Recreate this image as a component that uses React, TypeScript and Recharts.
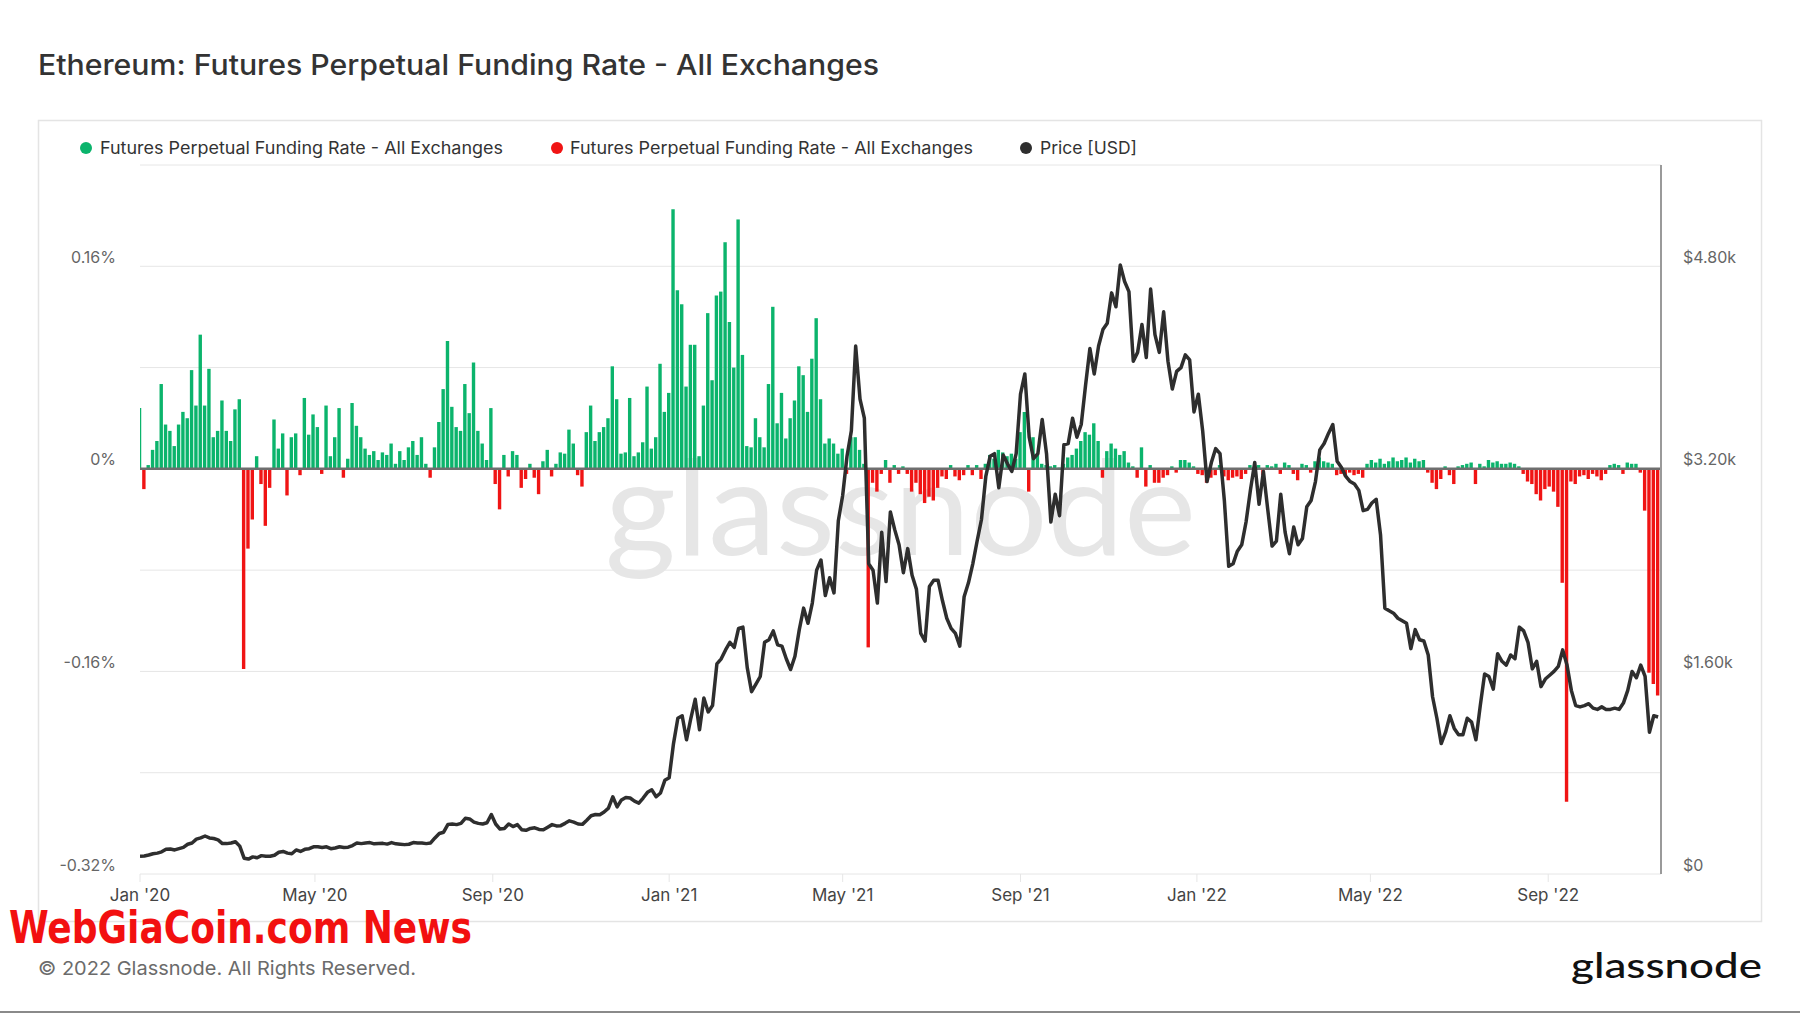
import React from 'react';
import { ComposedChart, Bar, Line, XAxis, YAxis, CartesianGrid, ReferenceLine, Cell } from 'recharts';

const FONT = 'Inter, "Noto Sans", Roboto, sans-serif';
const GREEN = '#0bb46c';
const RED = '#f01414';
const PRICE_COLOR = '#2e2e2e';

const DAY_MS = 86400000;
const START = Date.parse('2020-01-01');
const END = Date.parse('2022-11-18');
const STEP_DAYS = 3;

// funding rate (%), one value every 3 days from 1 Jan 2020
const fundingRate = [
  0.048, -0.016, 0.003, 0.015, 0.022, 0.067, 0.035, 0.03, 0.018, 0.035,
  0.045, 0.04, 0.078, 0.05, 0.106, 0.05, 0.079, 0.025, 0.03, 0.054,
  0.03, 0.022, 0.047, 0.055, -0.158, -0.063, -0.04, 0.01, -0.012, -0.045,
  -0.015, 0.039, 0.016, 0.028, -0.021, 0.025, 0.028, -0.005, 0.056, 0.027,
  0.043, 0.033, -0.004, 0.05, 0.01, 0.025, 0.048, -0.007, 0.008, 0.052,
  0.034, 0.025, 0.016, 0.011, 0.014, 0.007, 0.013, 0.011, 0.02, 0.004,
  0.014, 0.007, 0.017, 0.022, 0.011, 0.025, 0.004, -0.007, 0.017, 0.037,
  0.063, 0.101, 0.049, 0.033, 0.03, 0.067, 0.044, 0.084, 0.03, 0.02,
  0.007, 0.048, -0.012, -0.032, 0.011, -0.006, 0.014, 0.011, -0.015, -0.008,
  0.004, -0.007, -0.02, 0.006, 0.015, -0.006, 0.004, 0.013, 0.012, 0.031,
  0.02, -0.005, -0.014, 0.029, 0.05, 0.022, 0.029, 0.033, 0.04, 0.081,
  0.055, 0.012, 0.013, 0.056, 0.01, 0.013, 0.021, 0.065, 0.016, 0.025,
  0.083, 0.045, 0.06, 0.205, 0.141, 0.13, 0.065, 0.098, 0.098, 0.01,
  0.05, 0.123, 0.07, 0.137, 0.14, 0.179, 0.116, 0.08, 0.197, 0.09,
  0.018, 0.017, 0.04, 0.025, 0.017, 0.067, 0.128, 0.036, 0.06, 0.024,
  0.04, 0.054, 0.081, 0.074, 0.045, 0.087, 0.119, 0.055, 0.02, 0.024,
  0.02, 0.012, 0.016, -0.004, 0.025, 0.025, 0.015, 0.004, -0.141, -0.011,
  -0.018, -0.004, 0.007, -0.011, 0.003, -0.004, 0.002, -0.004, -0.018, -0.011,
  -0.02, -0.027, -0.022, -0.025, -0.015, -0.006, -0.008, 0.003, -0.006, -0.009,
  -0.005, 0.003, -0.005, 0.003, -0.008, 0.004, 0.011, 0.008, 0.015, 0.013,
  0.01, 0.012, 0.008, 0.029, 0.045, -0.018, 0.025, 0.011, 0.004, 0.003,
  0.002, 0.003, 0.001, 0.004, 0.009, 0.011, 0.016, 0.022, 0.029, 0.027,
  0.036, 0.022, -0.007, 0.014, 0.02, 0.016, 0.011, 0.014, 0.005, 0.002,
  -0.007, 0.017, -0.014, 0.003, -0.011, -0.011, -0.007, -0.005, 0.002, -0.003,
  0.007, 0.007, 0.005, 0.002, -0.004, -0.005, -0.011, -0.007, -0.005, 0.003,
  -0.006, -0.009, -0.007, -0.006, -0.008, -0.004, 0.003, -0.003, 0.003, -0.005,
  0.003, 0.002, 0.004, -0.004, 0.005, 0.003, -0.004, -0.009, 0.004, 0.003,
  -0.003, 0.006, 0.009, 0.006, 0.005, 0.004, -0.005, -0.004, -0.006, -0.003,
  -0.005, -0.004, -0.007, 0.004, 0.007, 0.005, 0.008, 0.004, 0.006, 0.009,
  0.006, 0.007, 0.009, 0.005, 0.008, 0.006, 0.007, -0.003, -0.011, -0.016,
  -0.008, 0.002, -0.005, -0.012, 0.002, 0.003, 0.004, 0.005, -0.012, 0.004,
  0.002, 0.007, 0.005, 0.006, 0.004, 0.004, 0.005, 0.004, 0.002, -0.004,
  -0.01, -0.012, -0.02, -0.025, -0.016, -0.014, -0.018, -0.03, -0.09, -0.263,
  -0.01, -0.012, -0.006, -0.005, -0.008, -0.004, -0.006, -0.009, -0.004, 0.003,
  0.004, 0.003, -0.004, 0.005, 0.004, 0.004, -0.003, -0.033, -0.161, -0.17, -0.179,
];

// ETH price (USD), same dates
const priceUsd = [
  140, 142, 150, 160, 165, 175, 195, 198, 190, 200,
  210, 235, 245, 275, 285, 300, 285, 280, 270, 240,
  240, 245, 255, 220, 125, 118, 135, 128, 145, 140,
  140, 148, 172, 178, 165, 160, 190, 178, 195, 200,
  215, 215, 210, 215, 200, 205, 215, 210, 212, 225,
  245, 240, 245, 248, 238, 240, 242, 236, 248, 238,
  235, 232, 235, 248, 244, 245, 240, 245, 285, 320,
  330, 392, 395, 390, 400, 440, 435, 410, 400, 395,
  405, 470, 395, 355, 360, 395, 375, 390, 350, 345,
  360, 365, 352, 350, 370, 390, 380, 382, 400, 420,
  410, 395, 392, 425, 460, 470, 468, 490, 520, 610,
  530, 585, 605, 600, 575, 560, 600, 645, 665, 610,
  640, 740, 760, 1030, 1230, 1250, 1060, 1230, 1380, 1140,
  1390, 1280, 1330, 1660, 1700, 1770, 1830, 1790, 1940, 1950,
  1630, 1440, 1500, 1560, 1830, 1850, 1920, 1810, 1800, 1700,
  1615, 1720, 1930, 2100, 1980, 2140, 2400, 2480, 2200, 2340,
  2220, 2790, 2990, 3300, 3500, 4170, 3750, 3600, 2450, 2400,
  2140, 2700, 2310, 2860, 2720, 2600, 2380, 2570, 2360, 2250,
  1900, 1840, 2270, 2320, 2320, 2160, 2020, 1940, 1900, 1800,
  2190, 2300, 2450, 2630, 2800, 3140, 3300, 3320, 3050, 3310,
  3240, 3180, 3320, 3790, 3950, 3450, 3280, 3320, 3590, 3320,
  2780, 3000, 2830, 3390, 3400, 3600, 3450, 3550, 3860, 4150,
  3950, 4170, 4300, 4350, 4590, 4480, 4810, 4680, 4600, 4050,
  4120, 4340, 4080, 4620, 4260, 4120, 4440, 4050, 3830, 3970,
  4000, 4100, 4060, 3650, 3790, 3500, 3100, 3250, 3360, 3320,
  2950, 2430, 2450, 2550, 2600, 2780, 3030, 3250, 2920, 3180,
  2880, 2590, 2630, 3000, 2700, 2530, 2740, 2600, 2650, 2900,
  2950, 3100, 3350, 3400, 3480, 3550, 3260, 3210, 3140, 3100,
  3080, 3030, 2870, 2880, 2930, 2960, 2680, 2100, 2080, 2060,
  2020, 2000, 1980, 1780, 1930, 1850, 1840, 1730, 1400, 1230,
  1030, 1120, 1250, 1150, 1100, 1100, 1230, 1200, 1060, 1330,
  1580, 1560, 1460, 1740, 1680, 1650, 1730, 1700, 1950, 1920,
  1830, 1620, 1680, 1480, 1540, 1570, 1600, 1640, 1770, 1650,
  1450, 1330, 1320, 1330, 1345, 1310, 1300, 1320, 1300, 1300,
  1310, 1300, 1350, 1450, 1600, 1550, 1650, 1560, 1120, 1250, 1240,
];

const xTickDates = ['2020-01-01', '2020-05-01', '2020-09-01', '2021-01-01', '2021-05-01', '2021-09-01', '2022-01-01', '2022-05-01', '2022-09-01'];
const xTickLabels = ["Jan '20", "May '20", "Sep '20", "Jan '21", "May '21", "Sep '21", "Jan '22", "May '22", "Sep '22"];

const rateTicks = [-0.32, -0.24, -0.16, -0.08, 0, 0.08, 0.16, 0.24];
const rateLabelValues = [-0.32, -0.16, 0, 0.16];
const rateLabels = ['-0.32%', '-0.16%', '0%', '0.16%'];

const priceTicks = [0, 1600, 3200, 4800];
const priceLabels = ['$0', '$1.60k', '$3.20k', '$4.80k'];

const legendName = 'Futures Perpetual Funding Rate - All Exchanges';

const toDay = (d: string) => Math.round((Date.parse(d) - START) / DAY_MS);
const xTicks = xTickDates.map(toDay);
const lastDay = Math.round((END - START) / DAY_MS);

const data = fundingRate.map((rate, i) => ({
  day: i * STEP_DAYS,
  rate,
  price: priceUsd[i],
}));

const XTick = (p: any) => {
  const idx = xTicks.indexOf(p.payload.value);
  return (
    <text x={p.x} y={p.y + 12} textAnchor="middle" fill="#444" fontSize={17} fontFamily={FONT}>
      {xTickLabels[idx]}
    </text>
  );
};

const LeftTick = (p: any) => {
  const idx = rateLabelValues.findIndex((v) => Math.abs(v - p.payload.value) < 1e-9);
  if (idx < 0) return <g />;
  return (
    <text x={p.x} y={p.y - 9} dy="0.35em" textAnchor="end" fill="#666" fontSize={16} fontFamily={FONT}>
      {rateLabels[idx]}
    </text>
  );
};

const RightTick = (p: any) => {
  const idx = priceTicks.indexOf(p.payload.value);
  return (
    <text x={p.x} y={p.y - 9} dy="0.35em" textAnchor="start" fill="#666" fontSize={16} fontFamily={FONT}>
      {priceLabels[idx]}
    </text>
  );
};

export default function App() {
  return (
    <div style={{ position: 'absolute', left: 0, top: 0, width: 1800, height: 1013, background: '#fff', overflow: 'hidden' }}>
      {/* card + watermark behind the chart */}
      <svg width={1800} height={1013} style={{ position: 'absolute', left: 0, top: 0 }}>
        <rect x={38.5} y={120.5} width={1723} height={801} fill="#fff" stroke="#e4e4e4" strokeWidth={1.5} />
        <text x={605} y={555} fontSize={132} fontFamily='Lato, "Noto Sans", sans-serif' fill="#e6e6e6" textLength={591} lengthAdjust="spacingAndGlyphs">
          glassnode
        </text>
      </svg>

      <div style={{ position: 'absolute', left: 0, top: 0 }}>
        <ComposedChart width={1800} height={1013} data={data} margin={{ top: 165, right: 49, bottom: 99, left: 60 }}>
          <CartesianGrid yAxisId="rate" horizontal vertical={false} stroke="#e6e6e6" />
          <XAxis
            dataKey="day"
            type="number"
            domain={[0, lastDay]}
            ticks={xTicks}
            allowDataOverflow
            height={40}
            axisLine={false}
            tickLine={{ stroke: '#e6e6e6' }}
            tickSize={8}
            tickMargin={7}
            tick={XTick}
            interval={0}
          />
          <YAxis
            yAxisId="rate"
            orientation="left"
            width={80}
            domain={[-0.32, 0.24]}
            ticks={rateTicks}
            allowDataOverflow
            axisLine={false}
            tickLine={false}
            tickSize={0}
            tickMargin={24}
            tick={LeftTick}
            interval={0}
          />
          <YAxis
            yAxisId="price"
            orientation="right"
            width={90}
            domain={[0, 5600]}
            ticks={priceTicks}
            allowDataOverflow
            axisLine={{ stroke: '#9a9a9a', strokeWidth: 2 }}
            tickLine={false}
            tickSize={0}
            tickMargin={22}
            tick={RightTick}
            interval={0}
          />
          <Bar yAxisId="rate" dataKey="rate" barSize={3.4} isAnimationActive={false} name={legendName}>
            {data.map((d, i) => (
              <Cell key={i} fill={d.rate >= 0 ? GREEN : RED} />
            ))}
          </Bar>
          <ReferenceLine yAxisId="rate" y={0} stroke="#6e6e6e" strokeWidth={2.5} />
          <Line
            yAxisId="price"
            dataKey="price"
            type="linear"
            stroke={PRICE_COLOR}
            strokeWidth={3.5}
            strokeLinejoin="round"
            dot={false}
            activeDot={false}
            isAnimationActive={false}
            name="Price [USD]"
          />
        </ComposedChart>
      </div>

      {/* title, legend, footer */}
      <svg width={1800} height={1013} style={{ position: 'absolute', left: 0, top: 0, pointerEvents: 'none' }}>
        <text x={38} y={75} fontSize={28} fontWeight={500} fontFamily={FONT} fill="#333" textLength={841} lengthAdjust="spacingAndGlyphs">
          Ethereum: Futures Perpetual Funding Rate - All Exchanges
        </text>

        <circle cx={86} cy={148} r={6} fill={GREEN} />
        <text x={100} y={154} fontSize={17} fontFamily={FONT} fill="#333" textLength={403} lengthAdjust="spacingAndGlyphs">
          {legendName}
        </text>
        <circle cx={557} cy={148} r={6} fill={RED} />
        <text x={570} y={154} fontSize={17} fontFamily={FONT} fill="#333" textLength={403} lengthAdjust="spacingAndGlyphs">
          {legendName}
        </text>
        <circle cx={1026} cy={148} r={6} fill={PRICE_COLOR} />
        <text x={1040} y={154} fontSize={17} fontFamily={FONT} fill="#333" textLength={97} lengthAdjust="spacingAndGlyphs">
          Price [USD]
        </text>

        <text x={9} y={943} fontSize={44} fontWeight={700} fontFamily='"Liberation Sans Narrow", "DejaVu Sans Condensed", "DejaVu Sans", sans-serif' fill="#f21010" textLength={463} lengthAdjust="spacingAndGlyphs">
          WebGiaCoin.com News
        </text>

        <text x={38} y={975} fontSize={19} fontFamily={FONT} fill="#6b6b6b" textLength={378} lengthAdjust="spacingAndGlyphs">
          © 2022 Glassnode. All Rights Reserved.
        </text>

        <text x={1571} y={978} fontSize={34} fontWeight={500} fontFamily='Lato, "Noto Sans", sans-serif' fill="#111" textLength={191} lengthAdjust="spacingAndGlyphs">
          glassnode
        </text>

        <rect x={0} y={1011} width={1800} height={2} fill="#8a8a8a" />
      </svg>
    </div>
  );
}
